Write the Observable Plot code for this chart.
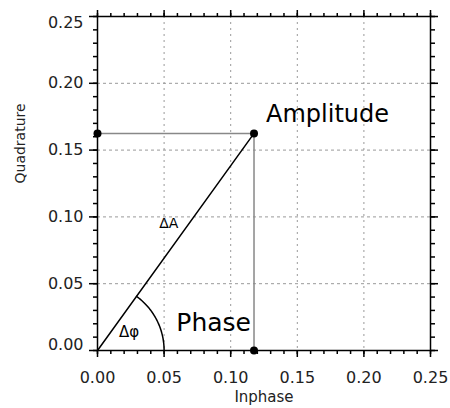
<!DOCTYPE html>
<html>
<head>
<meta charset="utf-8">
<script src="https://cdn.jsdelivr.net/npm/d3@7"></script>
<script src="https://cdn.jsdelivr.net/npm/@observablehq/plot@0.6"></script>
<style>
  html, body { margin: 0; padding: 0; background: #fff; }
  svg { display: block; }
</style>
</head>
<body>
<div id="chart"></div>
<script>
// Axis ticks (inphase and quadrature share the same 0–0.25 range)
const majorTicks = [0, 0.05, 0.10, 0.15, 0.20, 0.25];
const gridTicks = [0.05, 0.10, 0.15, 0.20];
const innerLabelTicks = [0.05, 0.10, 0.15, 0.20];
const minorTicks = d3.range(0, 0.2501, 0.01);

// The signal vector: inphase / quadrature components
const inphase = [0.1175];
const quadrature = [0.1625];
// Radius of the phase-angle arc
const arcRadius = [0.05];

const I = inphase[0], Q = quadrature[0], R = arcRadius[0];
const vector = [{x: 0, y: 0}, {x: I, y: Q}];
const projection = [{x: 0, y: Q}, {x: I, y: Q}, {x: I, y: 0}];
const theta = Math.atan2(Q, I);
const arc = d3.range(0, 1.0001, 1 / 60).map(t => ({x: R * Math.cos(t * theta), y: R * Math.sin(t * theta)}));
const mid = {x: I / 2, y: Q / 2};
const halfAngle = {x: 0.5 * R * Math.cos(theta / 2), y: 0.5 * R * Math.sin(theta / 2)};

const font = "DejaVu Sans";
const labelColor = "#222";

const chart = Plot.plot({
  width: 450,
  height: 408,
  marginLeft: 97,
  marginRight: 20,
  marginTop: 16,
  marginBottom: 58,
  style: {fontFamily: font, background: "#fff", color: "#000"},
  x: {domain: [0, 0.25]},
  y: {domain: [0, 0.25]},
  marks: [
    // dashed grid
    Plot.ruleX(gridTicks, {stroke: "#999", strokeWidth: 1, strokeDasharray: "2,4"}),
    Plot.ruleY(gridTicks, {stroke: "#999", strokeWidth: 1, strokeDasharray: "3,3"}),
    // projections onto the axes
    Plot.line(projection, {x: "x", y: "y", stroke: "#888", strokeWidth: 1.5}),
    // amplitude vector and phase arc
    Plot.line(vector, {x: "x", y: "y", stroke: "#000", strokeWidth: 1.5}),
    Plot.line(arc, {x: "x", y: "y", stroke: "#000", strokeWidth: 1.5, curve: "linear"}),
    Plot.dot(projection, {x: "x", y: "y", r: 4, fill: "#000", stroke: "none"}),
    Plot.frame({stroke: "#000", strokeWidth: 1.5}),
    // major ticks on all four sides, pointing outward
    Plot.axisX({anchor: "bottom", ticks: majorTicks, tickSize: 7, text: null, label: null, strokeWidth: 1.5}),
    Plot.axisX({anchor: "top", ticks: majorTicks, tickSize: 7, text: null, label: null, strokeWidth: 1.5}),
    Plot.axisY({anchor: "left", ticks: majorTicks, tickSize: 8, text: null, label: null, strokeWidth: 1.5}),
    Plot.axisY({anchor: "right", ticks: majorTicks, tickSize: 7, text: null, label: null, strokeWidth: 1.5}),
    // minor ticks
    Plot.axisX({anchor: "bottom", ticks: minorTicks, tickSize: 4, text: null, label: null, strokeWidth: 1.5}),
    Plot.axisX({anchor: "top", ticks: minorTicks, tickSize: 4, text: null, label: null, strokeWidth: 1.5}),
    Plot.axisY({anchor: "left", ticks: minorTicks, tickSize: 4, text: null, label: null, strokeWidth: 1.5}),
    Plot.axisY({anchor: "right", ticks: minorTicks, tickSize: 4, text: null, label: null, strokeWidth: 1.5}),
    // tick labels
    Plot.axisX({anchor: "bottom", ticks: majorTicks, tickSize: 0, tickPadding: 21, tickFormat: d3.format(".2f"), fontSize: 16, fill: labelColor, label: null}),
    Plot.axisY({anchor: "left", ticks: innerLabelTicks, tickSize: 0, tickPadding: 14, tickFormat: d3.format(".2f"), fontSize: 16, fill: labelColor, label: null}),
    Plot.axisY({anchor: "left", ticks: [0], tickSize: 0, tickPadding: 14, dy: -6, tickFormat: d3.format(".2f"), fontSize: 16, fill: labelColor, label: null}),
    Plot.axisY({anchor: "left", ticks: [0.25], tickSize: 0, tickPadding: 14, dy: 6, tickFormat: d3.format(".2f"), fontSize: 16, fill: labelColor, label: null}),
    // axis titles
    Plot.text(["Inphase"], {frameAnchor: "bottom", dy: 51, fontSize: 15, fill: labelColor}),
    Plot.text(["Quadrature"], {frameAnchor: "left", dx: -77, rotate: -90, fontSize: 14, fill: labelColor}),
    // annotations
    Plot.text(["Amplitude"], {x: inphase, y: quadrature, dx: 12, dy: -19, textAnchor: "start", fontSize: 24, fill: "#000"}),
    Plot.text(["Phase"], {x: inphase, y: [0], dx: -3, dy: -28, textAnchor: "end", fontSize: 25, fill: "#000"}),
    Plot.text(["ΔA"], {x: [mid.x], y: [mid.y], dx: -7, dy: -18, fontSize: 14, fill: "#000"}),
    Plot.text(["Δφ"], {x: [halfAngle.x], y: [halfAngle.y], dx: 2, dy: -3, fontSize: 15, fill: "#000"})
  ]
});

document.getElementById("chart").appendChild(chart);
</script>
</body>
</html>
